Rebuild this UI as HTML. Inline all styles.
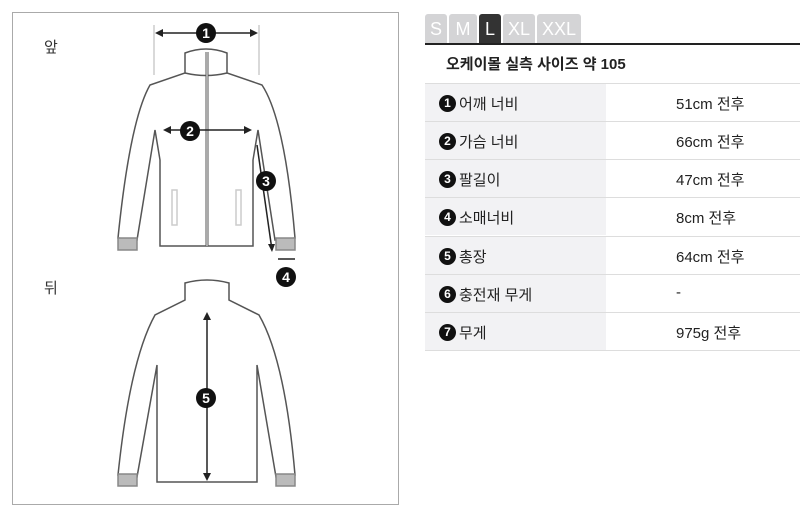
<!DOCTYPE html>
<html><head><meta charset="utf-8"><style>
body{margin:0;width:800px;height:512px;background:#fff;font-family:"Liberation Sans","Noto Sans CJK KR",sans-serif;position:relative;overflow:hidden}
.box{position:absolute;left:12px;top:12px;width:387px;height:493px;border:1px solid #aaa;box-sizing:border-box}
.lbl{position:absolute;font-size:15px;color:#333}
.tabs{position:absolute;left:425px;top:14px;height:30px}
.tab{position:absolute;top:0;height:30px;background:#d4d4d6;color:#fff;font-size:18px;line-height:30px;text-align:center;border-radius:3px 3px 0 0}
.line{position:absolute;left:425px;top:43px;width:375px;height:2px;background:#222}
.title{position:absolute;left:446px;top:53px;font-size:15px;font-weight:bold;color:#222}
.row{position:absolute;left:425px;width:375px;height:37px;border-top:1px solid #ddd;font-size:15px;color:#222}
.row .l{position:absolute;left:0;top:0;width:181px;height:100%;background:#f2f2f4}
.row .t{position:absolute;left:14px;top:9px;display:flex;align-items:center}
.row .v{position:absolute;left:251px;top:9px}
.n{display:inline-block;width:17px;height:17px;border-radius:50%;background:#111;color:#fff;font-size:12px;font-weight:bold;text-align:center;line-height:17px;margin-right:3px}
</style></head><body>
<div class="box"></div>
<div class="lbl" style="left:44px;top:36px">앞</div>
<div class="lbl" style="left:44px;top:277px">뒤</div>
<svg width="400" height="512" style="position:absolute;left:0;top:0" fill="none" stroke="#555" stroke-width="1.5">
<!-- front -->
<line x1="154" y1="25" x2="154" y2="75" stroke="#ccc"/><line x1="259" y1="25" x2="259" y2="75" stroke="#ccc"/>
<path d="M185 53 L185 73 L150 85 Q130 120 118 238 L137 240 L155 130 L160 160 L160 246 L253 246 L253 160 L258 130 L275 240 L295 238 Q285 120 262 85 L227 73 L227 53 Q206 45 185 53Z"/>
<path d="M185 73 Q206 78 227 73"/>
<line x1="207" y1="52" x2="207" y2="246" stroke-width="3"/><line x1="207" y1="52" x2="207" y2="246" stroke="#fff" stroke-width="1"/>
<rect x="118" y="238" width="19" height="12" fill="#bbb" stroke="#888"/><rect x="276" y="238" width="19" height="12" fill="#bbb" stroke="#888"/>
<rect x="172" y="190" width="5" height="35" stroke="#ccc"/><rect x="236" y="190" width="5" height="35" stroke="#ccc"/>
<g stroke="#222" stroke-width="1.5"><line x1="157" y1="33" x2="256" y2="33"/><line x1="165" y1="130" x2="250" y2="130"/><line x1="257" y1="145" x2="272" y2="250"/><line x1="278" y1="259" x2="295" y2="259"/>
<line x1="207" y1="315" x2="207" y2="478"/></g>
<g fill="#222" stroke="none"><path d="M155 33 l8-4 v8z"/><path d="M258 33 l-8-4 v8z"/><path d="M163 130 l8-4 v8z"/><path d="M252 130 l-8-4 v8z"/><path d="M272 252 l-4-8 h7z"/><path d="M207 312 l-4 8 h8z"/><path d="M207 481 l-4-8 h8z"/></g>
<!-- back -->
<path d="M185 283 L185 300 L155 315 Q130 360 118 475 L137 477 L157 365 L157 482 L257 482 L257 365 L276 477 L295 475 Q285 360 259 315 L229 300 L229 283 Q207 277 185 283Z"/>
<rect x="118" y="474" width="19" height="12" fill="#bbb" stroke="#888"/><rect x="276" y="474" width="19" height="12" fill="#bbb" stroke="#888"/>
<g fill="#111" stroke="none"><circle cx="206" cy="33" r="10"/><circle cx="190" cy="131" r="10"/><circle cx="266" cy="181" r="10"/><circle cx="286" cy="277" r="10"/><circle cx="206" cy="398" r="10"/></g>
<g fill="#fff" stroke="none" font-size="14" font-weight="bold" text-anchor="middle" font-family="Liberation Sans"><text x="206" y="38">1</text><text x="190" y="136">2</text><text x="266" y="186">3</text><text x="286" y="282">4</text><text x="206" y="403">5</text></g>
</svg>
<div class="tabs">
<div class="tab" style="left:0;width:22px">S</div><div class="tab" style="left:24px;width:28px">M</div><div class="tab" style="left:54px;width:22px;background:#333">L</div><div class="tab" style="left:78px;width:32px">XL</div><div class="tab" style="left:112px;width:44px">XXL</div>
</div>
<div class="line"></div>
<div class="title">오케이몰 실측 사이즈 약 105</div>
<div class="row" style="top:83px"><div class="l"></div><div class="t"><span class="n">1</span>어깨 너비</div><div class="v">51cm 전후</div></div>
<div class="row" style="top:121px"><div class="l"></div><div class="t"><span class="n">2</span>가슴 너비</div><div class="v">66cm 전후</div></div>
<div class="row" style="top:159px"><div class="l"></div><div class="t"><span class="n">3</span>팔길이</div><div class="v">47cm 전후</div></div>
<div class="row" style="top:197px"><div class="l"></div><div class="t"><span class="n">4</span>소매너비</div><div class="v">8cm 전후</div></div>
<div class="row" style="top:236px"><div class="l"></div><div class="t"><span class="n">5</span>총장</div><div class="v">64cm 전후</div></div>
<div class="row" style="top:274px"><div class="l"></div><div class="t"><span class="n">6</span>충전재 무게</div><div class="v">-</div></div>
<div class="row" style="top:312px;border-bottom:1px solid #ddd"><div class="l"></div><div class="t"><span class="n">7</span>무게</div><div class="v">975g 전후</div></div>
</body></html>
